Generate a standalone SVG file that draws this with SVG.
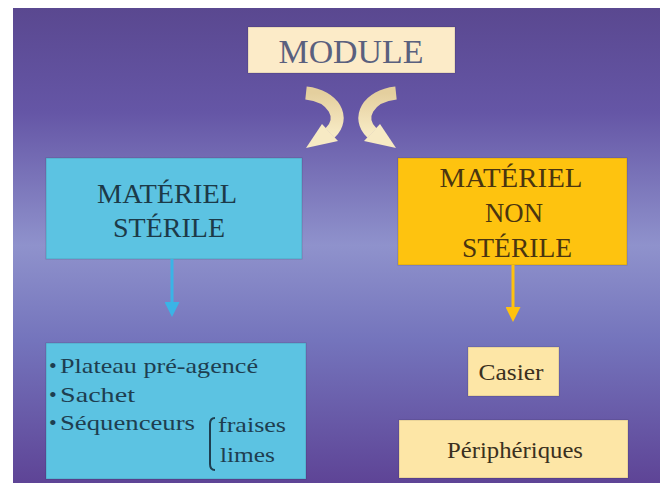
<svg xmlns="http://www.w3.org/2000/svg" width="660" height="483" viewBox="0 0 660 483">
<defs>
<linearGradient id="bg" x1="0" y1="0" x2="0" y2="1">
<stop offset="0" stop-color="#5a4890"/>
<stop offset="0.22" stop-color="#6556a6"/>
<stop offset="0.5" stop-color="#8f92cc"/>
<stop offset="0.7" stop-color="#7474bc"/>
<stop offset="1" stop-color="#5e4496"/>
</linearGradient>
<linearGradient id="cur" x1="0" y1="0" x2="0" y2="1">
<stop offset="0" stop-color="#e4cf9e"/>
<stop offset="1" stop-color="#f7eac4"/>
</linearGradient>
<marker id="ab" markerWidth="5" markerHeight="5" refX="2" refY="2.5" orient="auto" markerUnits="strokeWidth" viewBox="0 0 5 5">
<path d="M0,0 L5,2.5 L0,5 Z" fill="#3ab4e6"/>
</marker>
<marker id="ay" markerWidth="5" markerHeight="5" refX="2" refY="2.5" orient="auto" markerUnits="strokeWidth" viewBox="0 0 5 5">
<path d="M0,0 L5,2.5 L0,5 Z" fill="#ffc20e"/>
</marker>
</defs>
<style>
text{font-family:"Liberation Serif","DejaVu Serif","Times New Roman",serif}
.box{stroke:#000;stroke-opacity:0.15;stroke-width:1}
.blue{fill:#5cc3e2}
.gold{fill:#fec30f}
.cream{fill:#fde6a6}
.big{font-size:27px;text-anchor:middle}
.list{font-size:22px;fill:#1e3e50}
</style>
<rect x="0" y="0" width="660" height="483" fill="#ffffff"/>
<rect x="13" y="8" width="647" height="475" fill="url(#bg)"/>

<g id="module">
<rect class="box" x="248" y="27" width="207" height="46" fill="#fcebc8"/>
<text x="351" y="63" font-family="Liberation Serif, DejaVu Serif, serif" font-size="33" text-anchor="middle" fill="#5a607e" textLength="145" lengthAdjust="spacingAndGlyphs">MODULE</text>
</g>

<g id="materiel-sterile" font-family="Liberation Serif, DejaVu Serif, serif">
<rect class="box blue" x="46" y="158" width="256" height="101"/>
<text class="big" x="167" y="203" fill="#1c3a48" textLength="140" lengthAdjust="spacingAndGlyphs">MATÉRIEL</text>
<text class="big" x="169" y="237" fill="#1c3a48" textLength="112" lengthAdjust="spacingAndGlyphs">STÉRILE</text>
</g>

<g id="materiel-non-sterile" font-family="Liberation Serif, DejaVu Serif, serif">
<rect class="box gold" x="398" y="158" width="229" height="107"/>
<text class="big" x="511" y="187" fill="#4a3510" textLength="143" lengthAdjust="spacingAndGlyphs">MATÉRIEL</text>
<text class="big" x="514" y="222" fill="#4a3510" textLength="58" lengthAdjust="spacingAndGlyphs">NON</text>
<text class="big" x="517" y="257" fill="#4a3510" textLength="110" lengthAdjust="spacingAndGlyphs">STÉRILE</text>
</g>

<g id="liste-sterile" font-family="Liberation Serif, DejaVu Serif, serif">
<rect class="box blue" x="46" y="343" width="260" height="136"/>
<text class="list" x="49" y="373">•</text>
<text class="list" x="60" y="373" textLength="198" lengthAdjust="spacingAndGlyphs">Plateau pré-agencé</text>
<text class="list" x="49" y="402">•</text>
<text class="list" x="60" y="402" textLength="75" lengthAdjust="spacingAndGlyphs">Sachet</text>
<text class="list" x="49" y="430">•</text>
<text class="list" x="60" y="430" textLength="135" lengthAdjust="spacingAndGlyphs">Séquenceurs</text>
<path d="M215 418 Q210 418 210 424 L210 464 Q210 470 215 470" fill="none" stroke="#1e3e50" stroke-width="2"/>
<text class="list" x="218" y="432" textLength="68" lengthAdjust="spacingAndGlyphs">fraises</text>
<text class="list" x="220" y="462" textLength="55" lengthAdjust="spacingAndGlyphs">limes</text>
</g>

<g id="casier" font-family="Liberation Serif, DejaVu Serif, serif">
<rect class="box cream" x="468" y="347" width="91" height="49"/>
<text x="511" y="380" font-size="23" text-anchor="middle" fill="#3a3020" textLength="65" lengthAdjust="spacingAndGlyphs">Casier</text>
</g>

<g id="peripheriques" font-family="Liberation Serif, DejaVu Serif, serif">
<rect class="box cream" x="399" y="420" width="229" height="58"/>
<text x="515" y="458" font-size="23" text-anchor="middle" fill="#3a3020" textLength="136" lengthAdjust="spacingAndGlyphs">Périphériques</text>
</g>

<g id="connectors">
<g id="curve-left">
<path d="M306 93 C334 96 346 118 330 133" fill="none" stroke="url(#cur)" stroke-width="13"/>
<path d="M306 148 L338 141 L322 124 Z" fill="#f7eac4"/>
</g>
<g id="curve-right" transform="translate(702,0) scale(-1,1)">
<path d="M306 93 C334 96 346 118 330 133" fill="none" stroke="url(#cur)" stroke-width="13"/>
<path d="M306 148 L338 141 L322 124 Z" fill="#f7eac4"/>
</g>
<line x1="172" y1="259" x2="172" y2="308" stroke="#3ab4e6" stroke-width="3" marker-end="url(#ab)"/>
<line x1="513" y1="265" x2="513" y2="313" stroke="#ffc20e" stroke-width="3" marker-end="url(#ay)"/>
</g>
</svg>
